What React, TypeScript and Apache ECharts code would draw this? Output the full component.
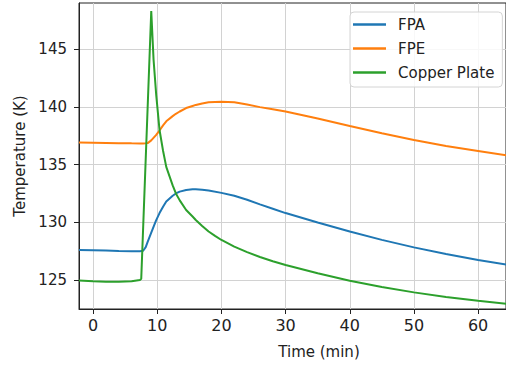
import React, { useEffect, useRef } from "react";
import * as echarts from "echarts";

// Time (min) samples and temperatures (K)
const fpaTime = [-2.2, 0, 2, 4, 6, 7.3, 7.8, 8.2, 8.5, 9.06, 9.8, 10.35, 10.9, 11.4, 12.4, 12.9, 13.5, 14.5, 15.5, 16, 17, 18, 20, 22, 24, 26, 28, 30, 35, 40, 45, 50, 55, 60, 64.4];
const fpaTemp = [127.6, 127.58, 127.55, 127.52, 127.5, 127.5, 127.54, 127.85, 128.3, 129.1, 130.15, 130.8, 131.35, 131.8, 132.3, 132.5, 132.66, 132.8, 132.86, 132.87, 132.83, 132.75, 132.55, 132.3, 131.95, 131.55, 131.18, 130.8, 129.98, 129.2, 128.48, 127.83, 127.25, 126.73, 126.35];

const fpeTime = [-2.2, 0, 2, 4, 6, 7.3, 7.8, 8.5, 9.06, 9.8, 10.35, 10.9, 11.4, 12.4, 12.9, 13.5, 14.5, 15.5, 16, 17, 18, 20, 22, 24, 26, 28, 30, 35, 40, 45, 50, 55, 60, 64.4];
const fpeTemp = [136.92, 136.9, 136.88, 136.86, 136.84, 136.83, 136.82, 136.86, 137.1, 137.55, 137.95, 138.4, 138.75, 139.2, 139.4, 139.6, 139.9, 140.08, 140.17, 140.3, 140.4, 140.45, 140.4, 140.2, 139.98, 139.8, 139.6, 139.0, 138.35, 137.72, 137.13, 136.62, 136.18, 135.8];

const copperTime = [-2.2, 0, 2, 4, 6, 7.3, 7.5, 9.06, 9.42, 9.84, 10.35, 10.9, 11.4, 12.4, 12.9, 13.5, 14.5, 15.5, 16, 17, 18, 19, 20, 22, 24, 26, 28, 30, 35, 40, 45, 50, 55, 60, 64.4];
const copperTemp = [124.95, 124.9, 124.86, 124.86, 124.9, 125.0, 125.1, 148.3, 144.1, 141.0, 138.0, 136.2, 134.8, 133.2, 132.5, 131.9, 131.07, 130.5, 130.2, 129.68, 129.2, 128.82, 128.47, 127.9, 127.42, 127.0, 126.63, 126.3, 125.58, 124.94, 124.4, 123.93, 123.52, 123.2, 122.95];

const xTicks = [0, 10, 20, 30, 40, 50, 60];
const yTicks = [125, 130, 135, 140, 145];

const seriesNames = ["FPA", "FPE", "Copper Plate"];
const seriesColors = ["#1f77b4", "#ff7f0e", "#2ca02c"];

const zip = (xs: number[], ys: number[]) => xs.map((x, i) => [x, ys[i]]);

export default function App() {
  const ref = useRef<HTMLDivElement>(null);
  useEffect(() => {
    document.body.style.margin = "0";
    const chart = echarts.init(ref.current!, null, { renderer: "svg", width: 506, height: 370 });
    const font = "DejaVu Sans";
    const txt = "#222";
    chart.setOption({
      animation: false,
      backgroundColor: "#fff",
      grid: {
        left: 79,
        top: 3,
        right: -2,
        bottom: 61,
        show: true,
        borderColor: "#222",
        borderWidth: 1,
        backgroundColor: "transparent",
      },
      xAxis: {
        type: "value",
        min: -2.2,
        max: 64.35,
        splitNumber: 7,
        axisLine: { show: true, onZero: false, lineStyle: { color: "#222", width: 1 } },
        axisTick: { show: true, inside: false, length: 5, customValues: xTicks, lineStyle: { color: "#222" } },
        axisLabel: {
          customValues: xTicks,
          fontSize: 16,
          fontFamily: font,
          color: txt,
          margin: 8,
        },
        splitLine: { show: true, lineStyle: { color: "#d2d2d2", width: 1 } },
      },
      yAxis: {
        type: "value",
        min: 122.49,
        max: 149.0,
        splitNumber: 5,
        name: "Temperature (K)",
        nameLocation: "middle",
        nameGap: 49,
        nameTextStyle: { fontSize: 15, fontFamily: font, color: txt },
        axisLine: { show: true, onZero: false, lineStyle: { color: "#222", width: 1 } },
        axisTick: { show: true, inside: false, length: 5, customValues: yTicks, lineStyle: { color: "#222" } },
        axisLabel: {
          customValues: yTicks,
          fontSize: 15,
          fontFamily: font,
          color: txt,
          margin: 12,
        },
        splitLine: { show: true, lineStyle: { color: "#d2d2d2", width: 1 } },
      },
      legend: {
        orient: "vertical",
        left: 350,
        top: 12,
        icon: "rect",
        itemWidth: 33,
        itemHeight: 2.5,
        itemGap: 9,
        padding: [5, 8, 7, 3],
        backgroundColor: "rgba(255,255,255,0.85)",
        borderColor: "#d4d4d4",
        borderWidth: 1,
        borderRadius: 4,
        textStyle: { fontSize: 15, lineHeight: 14, fontFamily: font, color: txt, padding: [0, 0, 0, 7] },
        data: seriesNames,
      },
      graphic: [
        {
          type: "text",
          x: 319,
          y: 352,
          style: {
            text: "Time (min)",
            font: `15px "${font}"`,
            fill: txt,
            textAlign: "center",
            textVerticalAlign: "middle",
          },
        },
      ],
      series: [
        { name: seriesNames[0], type: "line", data: zip(fpaTime, fpaTemp), color: seriesColors[0], symbol: "none", showSymbol: false, lineStyle: { width: 2 } },
        { name: seriesNames[1], type: "line", data: zip(fpeTime, fpeTemp), color: seriesColors[1], symbol: "none", showSymbol: false, lineStyle: { width: 2 } },
        { name: seriesNames[2], type: "line", data: zip(copperTime, copperTemp), color: seriesColors[2], symbol: "none", showSymbol: false, lineStyle: { width: 2 } },
      ],
    });
    return () => chart.dispose();
  }, []);
  return <div ref={ref} style={{ width: 506, height: 370, position: "fixed", left: 0, top: 0, background: "#fff" }} />;
}
